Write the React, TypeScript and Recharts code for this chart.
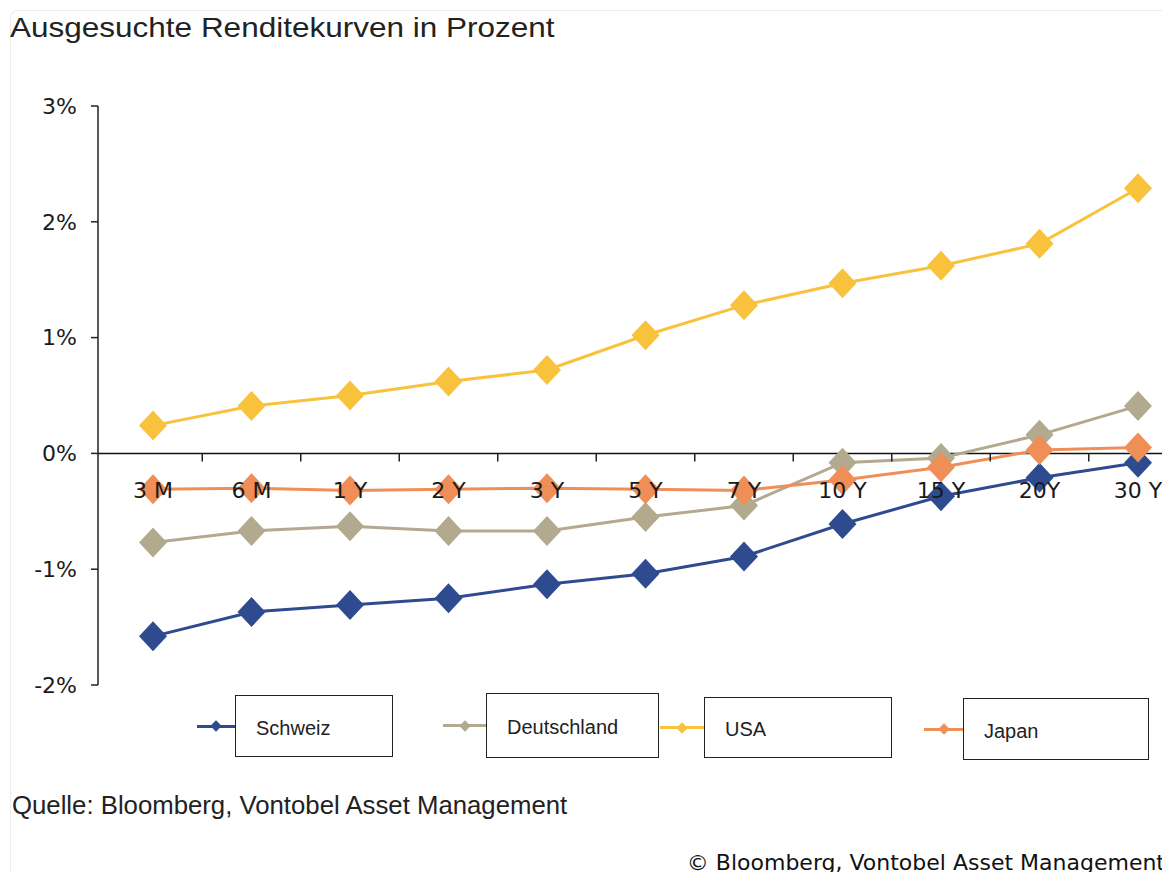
import React from 'react';
import { LineChart, Line, XAxis, YAxis, ReferenceLine } from 'recharts';

// Laufzeiten (x-axis categories)
const maturities = ['3 M', '6 M', '1 Y', '2 Y', '3 Y', '5 Y', '7 Y', '10 Y', '15 Y', '20Y', '30 Y'];

// yields in percent
const schweiz = [-1.58, -1.37, -1.31, -1.25, -1.13, -1.04, -0.89, -0.61, -0.37, -0.21, -0.08];
const deutschland = [-0.77, -0.67, -0.63, -0.67, -0.67, -0.55, -0.45, -0.08, -0.04, 0.16, 0.41];
const usa = [0.24, 0.41, 0.5, 0.62, 0.72, 1.02, 1.28, 1.47, 1.62, 1.81, 2.29];
const japan = [-0.31, -0.3, -0.32, -0.31, -0.3, -0.31, -0.32, -0.23, -0.12, 0.03, 0.05];

const yTicks = [-2, -1, 0, 1, 2, 3];

const series = [
  { key: 'schweiz', name: 'Schweiz', color: '#2f4b8f', values: schweiz },
  { key: 'deutschland', name: 'Deutschland', color: '#b3a98f', values: deutschland },
  { key: 'usa', name: 'USA', color: '#f9c23c', values: usa },
  { key: 'japan', name: 'Japan', color: '#ef8f57', values: japan },
];

const data = maturities.map((m, i) => {
  const row: Record<string, string | number> = { m };
  series.forEach(s => {
    row[s.key] = s.values[i];
  });
  return row;
});

const CHART_W = 1190;
const CHART_H = 880;
const M_TOP = 106;
const M_RIGHT = 3;
const X_AXIS_H = 30;
const M_BOTTOM = 165;
const Y_AXIS_W = 98;
const PAD_L = 55;
const PAD_R = 49;
const Y_MIN = -2;
const Y_MAX = 3;

const plotH = CHART_H - M_TOP - M_BOTTOM - X_AXIS_H;
const plotW = CHART_W - Y_AXIS_W - M_RIGHT;
const zeroY = M_TOP + (plotH * Y_MAX) / (Y_MAX - Y_MIN);
const step = (plotW - PAD_L - PAD_R) / (maturities.length - 1);

const Diamond = (props: any) => {
  const { cx, cy, stroke } = props;
  if (cx == null || cy == null) return null;
  return (
    <polygon
      points={`${cx},${cy - 15} ${cx + 14},${cy} ${cx},${cy + 15} ${cx - 14},${cy}`}
      fill={stroke}
    />
  );
};

// category labels sit under the zero line, not at the bottom of the plot
const ZeroTick = (props: any) => {
  const { x, payload, index } = props;
  return (
    <g>
      <text
        x={x}
        y={zeroY + 45}
        textAnchor="middle"
        fill="#1a1a1a"
        fontSize={22}
        fontFamily="DejaVu Sans"
      >
        {payload.value}
      </text>
      {index < maturities.length - 1 && (
        <line x1={x + step / 2} x2={x + step / 2} y1={zeroY} y2={zeroY + 8} stroke="#222" strokeWidth={1.5} />
      )}
    </g>
  );
};

const LegendBox = () => {
  const boxes = [
    { line: 197, box: 235, w: 158, top: 695, h: 62 },
    { line: 443, box: 486, w: 173, top: 693, h: 65 },
    { line: 660, box: 704, w: 188, top: 697, h: 61 },
    { line: 924, box: 963, w: 186, top: 698, h: 62 },
  ];
  return (
    <>
      {series.map((s, i) => {
        const b = boxes[i];
        const mid = b.top + b.h / 2;
        return (
          <React.Fragment key={s.key}>
            <div
              style={{
                position: 'absolute',
                left: b.line,
                top: mid - 1.5,
                width: b.box - b.line,
                height: 3,
                background: s.color,
              }}
            />
            <div
              style={{
                position: 'absolute',
                left: (b.line + b.box) / 2 - 4,
                top: mid - 4,
                width: 8,
                height: 8,
                background: s.color,
                transform: 'rotate(45deg)',
              }}
            />
            <div
              style={{
                position: 'absolute',
                left: b.box,
                top: b.top,
                width: b.w,
                height: b.h,
                border: '1.5px solid #222',
                boxSizing: 'border-box',
                display: 'flex',
                alignItems: 'center',
                paddingLeft: 20,
                paddingTop: 4,
                fontFamily: '"Liberation Sans", Arial, sans-serif',
                fontSize: 20,
                color: '#222',
              }}
            >
              {s.name}
            </div>
          </React.Fragment>
        );
      })}
    </>
  );
};

export default function App() {
  return (
    <div
      style={{
        position: 'relative',
        width: 1170,
        height: 880,
        margin: -8,
        overflow: 'hidden',
        background: '#fff',
      }}
    >
      <div
        style={{
          position: 'absolute',
          left: 10,
          top: 10,
          width: 1200,
          height: 900,
          borderLeft: '1px solid #ececec',
          borderTop: '1px solid #ececec',
          borderTopLeftRadius: 8,
        }}
      />
      <div
        style={{
          position: 'absolute',
          left: 10,
          top: 12,
          fontFamily: '"Liberation Sans", Arial, sans-serif',
          fontSize: 28,
          color: '#222',
          whiteSpace: 'nowrap',
          transformOrigin: 'left top',
          transform: 'scaleX(1.125)',
        }}
      >
        Ausgesuchte Renditekurven in Prozent
      </div>
      <div style={{ position: 'absolute', left: 0, top: 0 }}>
        <LineChart
          width={CHART_W}
          height={CHART_H}
          data={data}
          margin={{ top: M_TOP, right: M_RIGHT, bottom: M_BOTTOM, left: 0 }}
        >
          <XAxis
            dataKey="m"
            height={X_AXIS_H}
            padding={{ left: PAD_L, right: PAD_R }}
            axisLine={false}
            tickLine={false}
            interval={0}
            tick={<ZeroTick />}
          />
          <YAxis
            width={Y_AXIS_W}
            domain={[Y_MIN, Y_MAX]}
            ticks={yTicks}
            interval={0}
            tickFormatter={(v: number) => `${v}%`}
            axisLine={{ stroke: '#222', strokeWidth: 1.5 }}
            tickLine={{ stroke: '#222', strokeWidth: 1.5 }}
            tickSize={7}
            tickMargin={14}
            tick={{ fill: '#1a1a1a', fontSize: 22, fontFamily: 'DejaVu Sans' }}
          />
          <ReferenceLine y={0} stroke="#111" strokeWidth={1.5} />
          {series.map(s => (
            <Line
              key={s.key}
              dataKey={s.key}
              name={s.name}
              stroke={s.color}
              strokeWidth={3}
              dot={<Diamond />}
              activeDot={false}
              isAnimationActive={false}
            />
          ))}
        </LineChart>
      </div>
      <LegendBox />
      <div
        style={{
          position: 'absolute',
          left: 12,
          top: 790,
          fontFamily: '"Liberation Sans", Arial, sans-serif',
          fontSize: 26,
          color: '#222',
          whiteSpace: 'nowrap',
          transformOrigin: 'left top',
          transform: 'scaleX(0.99)',
        }}
      >
        Quelle: Bloomberg, Vontobel Asset Management
      </div>
      <div
        style={{
          position: 'absolute',
          right: 5,
          top: 850,
          fontFamily: '"DejaVu Sans", sans-serif',
          fontSize: 22,
          color: '#111',
          whiteSpace: 'nowrap',
        }}
      >
        © Bloomberg, Vontobel Asset Management
      </div>
    </div>
  );
}
